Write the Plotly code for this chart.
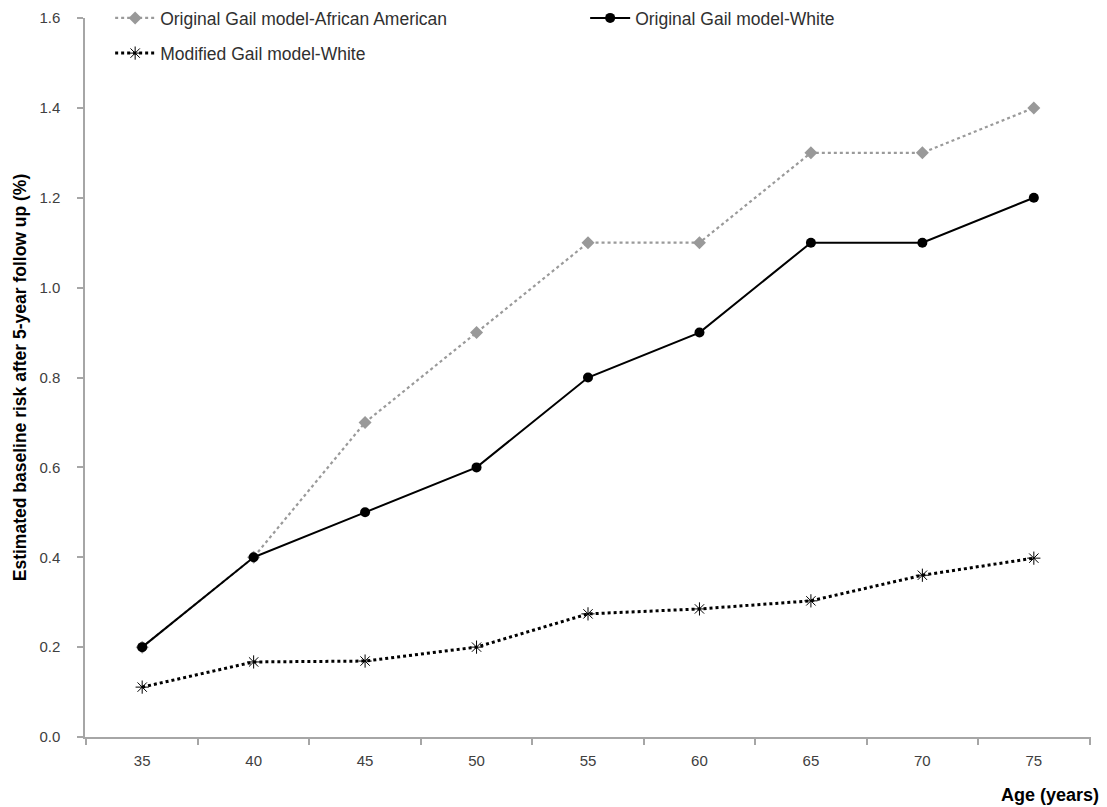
import plotly.graph_objects as go

ages = ["35", "40", "45", "50", "55", "60", "65", "70", "75"]
aa_orig = [0.2, 0.4, 0.7, 0.9, 1.1, 1.1, 1.3, 1.3, 1.4]
white_orig = [0.2, 0.4, 0.5, 0.6, 0.8, 0.9, 1.1, 1.1, 1.2]
white_mod = [0.111, 0.167, 0.169, 0.2, 0.274, 0.285, 0.303, 0.36, 0.398]

names = ["Original Gail model-African American", "Original Gail model-White", "Modified Gail model-White"]

FONT = "Liberation Sans, Arial, sans-serif"

fig = go.Figure()
fig.add_trace(go.Scatter(
    x=ages, y=aa_orig, name=names[0], mode="lines+markers",
    line=dict(color="#9a9a9a", width=2.2, dash="dot"),
    marker=dict(symbol="diamond", size=10, color="#999999"),
    legend="legend"))
fig.add_trace(go.Scatter(
    x=ages, y=white_orig, name=names[1], mode="lines+markers",
    line=dict(color="#000000", width=2),
    marker=dict(symbol="circle", size=10, color="#000000"),
    legend="legend"))
fig.add_trace(go.Scatter(
    x=ages, y=white_mod, name=names[2], mode="lines+markers",
    line=dict(color="#000000", width=3, dash="dot"),
    marker=dict(symbol="asterisk-open", size=11, color="#000000",
                line=dict(color="#000000", width=1)),
    legend="legend2"))

fig.update_layout(
    width=1107, height=807,
    margin=dict(l=85, r=16, t=18, b=70, autoexpand=False),
    paper_bgcolor="white", plot_bgcolor="white",
    font=dict(family=FONT, size=15, color="#404040"),
    showlegend=True,
    legend=dict(orientation="h", x=0.025, y=1.0, xanchor="left", yanchor="middle",
                entrywidth=420, entrywidthmode="pixels",
                font=dict(family=FONT, size=17.5, color="#303030"),
                bgcolor="rgba(0,0,0,0)", itemwidth=40),
    legend2=dict(orientation="h", x=0.025, y=0.951, xanchor="left", yanchor="middle",
                 font=dict(family=FONT, size=17.5, color="#303030"),
                 bgcolor="rgba(0,0,0,0)", itemwidth=40),
    xaxis=dict(type="category", tickson="boundaries", ticks="outside", ticklen=6,
               tickcolor="#a6a6a6", tickwidth=1.5,
               showline=True, linecolor="#a6a6a6", linewidth=1.5,
               showgrid=False, zeroline=False, ticklabelstandoff=9,
               tickfont=dict(family=FONT, size=15, color="#404040")),
    yaxis=dict(range=[0, 1.6], dtick=0.2, tickformat=".1f", ticks="outside", ticklen=6,
               tickcolor="#a6a6a6", tickwidth=1.5,
               showline=True, linecolor="#a6a6a6", linewidth=1.5,
               showgrid=False, zeroline=False, ticklabelstandoff=14,
               tickfont=dict(family=FONT, size=15, color="#404040"),
               title=dict(text="<b>Estimated baseline risk after 5-year follow up (%)</b>",
                          font=dict(family=FONT, size=17.5, color="#000000"), standoff=8)),
)

fig.add_annotation(text="<b>Age (years)</b>", xref="paper", yref="paper",
                   x=1.01, y=-0.081, xanchor="right", yanchor="middle", showarrow=False,
                   font=dict(family=FONT, size=18, color="#000000"))

fig.write_html("out.html", config={"displayModeBar": False},
               post_script="document.body.style.margin='0';")
